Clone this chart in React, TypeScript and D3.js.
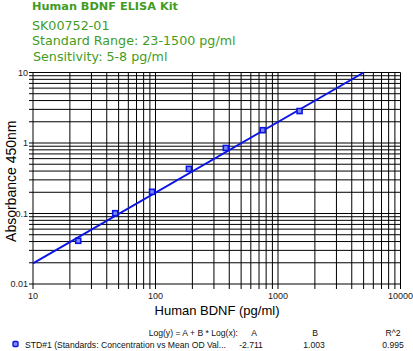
import { useEffect, useRef } from 'react';
import * as d3 from 'd3';

// standards: concentration (pg/ml) vs mean OD
const concentrations = [23.4, 46.9, 93.75, 187.5, 375, 750, 1500];
const meanOD = [0.041, 0.101, 0.203, 0.43, 0.85, 1.52, 2.84];

const xTicks = [10, 100, 1000, 10000];
const yTicks = [0.01, 0.1, 1, 10];

// fit: Log(y) = A + B * Log(x)
const fitA = -2.711;
const fitB = 1.003;
const fitR2 = 0.995;

const titleLines = ['SK00752-01', 'Standard Range: 23-1500 pg/ml', 'Sensitivity: 5-8 pg/ml'];

const App = () => {
  const svgRef = useRef<SVGSVGElement>(null);

  useEffect(() => {
    const svg = d3.select(svgRef.current);
    svg.selectAll('*').remove();

    const W = 413;
    const H = 351;
    const left = 33;
    const right = 400.5;
    const top = 72.5;
    const bottom = 284;

    const x = d3.scaleLog().domain([10, 10000]).range([left, right]);
    const y = d3.scaleLog().domain([0.01, 10]).range([bottom, top]);

    svg.attr('width', W).attr('height', H);

    // Header
    const green = '#3f9c1f';
    svg.append('text')
      .attr('x', 32).attr('y', 10)
      .style('font-family', 'DejaVu Sans')
      .style('font-weight', 'bold')
      .style('font-size', '11.3px')
      .attr('fill', green)
      .text('Human BDNF ELISA Kit');

    titleLines.forEach((t, i) => {
      svg.append('text')
        .attr('x', i === 2 ? 33 : 32)
        .attr('y', 30 + i * 15.3)
        .style('font-family', 'DejaVu Sans')
        .style('font-size', '12.7px')
        .attr('fill', green)
        .text(t);
    });

    // Grid lines at every 1..9 x decade
    const xGrid: number[] = [];
    for (let d = 10; d < 10000; d *= 10) {
      for (let k = 1; k <= 9; k++) xGrid.push(d * k);
    }
    xGrid.push(10000);
    const yGrid: number[] = [];
    for (let d = 0.01; d < 9; d *= 10) {
      for (let k = 1; k <= 9; k++) yGrid.push(+(d * k).toPrecision(3));
    }
    yGrid.push(10);

    const grid = svg.append('g').attr('stroke', '#000').attr('stroke-width', 1);
    xGrid.forEach(v => {
      grid.append('line')
        .attr('x1', x(v)).attr('x2', x(v))
        .attr('y1', top).attr('y2', bottom + 5);
    });
    yGrid.forEach(v => {
      grid.append('line')
        .attr('x1', left - 4).attr('x2', right)
        .attr('y1', y(v)).attr('y2', y(v));
    });

    // Tick labels
    const tickFont = 'Liberation Sans';
    xTicks.forEach(v => {
      svg.append('text')
        .attr('x', x(v)).attr('y', 299)
        .attr('text-anchor', 'middle')
        .style('font-family', tickFont)
        .style('font-size', '9px')
        .attr('fill', '#222')
        .text(String(v));
    });
    yTicks.forEach(v => {
      svg.append('text')
        .attr('x', left - 5).attr('y', y(v) + 3)
        .attr('text-anchor', 'end')
        .style('font-family', tickFont)
        .style('font-size', '9px')
        .attr('fill', '#222')
        .text(String(v));
    });

    // Axis titles
    svg.append('text')
      .attr('x', 217).attr('y', 315)
      .attr('text-anchor', 'middle')
      .style('font-family', tickFont)
      .style('font-size', '13px')
      .text('Human BDNF (pg/ml)');

    svg.append('text')
      .attr('transform', `translate(16,${(top + bottom) / 2 + 3}) rotate(-90)`)
      .attr('text-anchor', 'middle')
      .style('font-family', tickFont)
      .style('font-size', '14px')
      .text('Absorbance 450nm');

    // Fit line, clipped to plot top
    const xEnd = Math.pow(10, (1 - fitA) / fitB);
    const fitPts: [number, number][] = [10, xEnd].map(v => [v, Math.pow(10, fitA + fitB * Math.log10(v))]);
    svg.append('path')
      .datum(fitPts)
      .attr('fill', 'none')
      .attr('stroke', '#0a14e6')
      .attr('stroke-width', 2)
      .attr('d', d3.line<[number, number]>().x(d => x(d[0])).y(d => y(d[1])));

    // Points
    concentrations.forEach((c, i) => {
      svg.append('rect')
        .attr('x', x(c) - 2.5).attr('y', y(meanOD[i]) - 2.5)
        .attr('width', 5).attr('height', 5)
        .attr('fill', '#7f8cf0')
        .attr('stroke', '#0a14e6')
        .attr('stroke-width', 1.6);
    });

    // Legend / fit table
    const lf = (txt: string, xx: number, yy: number, anchor = 'middle') =>
      svg.append('text')
        .attr('x', xx).attr('y', yy)
        .attr('text-anchor', anchor)
        .style('font-family', tickFont)
        .style('font-size', '8.6px')
        .attr('fill', '#111')
        .text(txt);

    lf('Log(y) = A + B * Log(x):', 238, 336, 'end');
    lf('A', 254, 336);
    lf('B', 315, 336);
    lf('R^2', 393, 336);
    lf('STD#1 (Standards: Concentration vs Mean OD Val...', 25, 348, 'start');
    lf(String(fitA), 251, 348);
    lf(fitB.toFixed(3), 314, 348);
    lf(String(fitR2), 393, 348);

    svg.append('rect')
      .attr('x', 13).attr('y', 341.5)
      .attr('width', 5).attr('height', 5)
      .attr('rx', 1)
      .attr('fill', '#7f8cf0')
      .attr('stroke', '#0a14e6')
      .attr('stroke-width', 1.4);
  }, []);

  return <svg ref={svgRef} style={{ position: 'absolute', left: 0, top: 0 }}></svg>;
};

export default App;
